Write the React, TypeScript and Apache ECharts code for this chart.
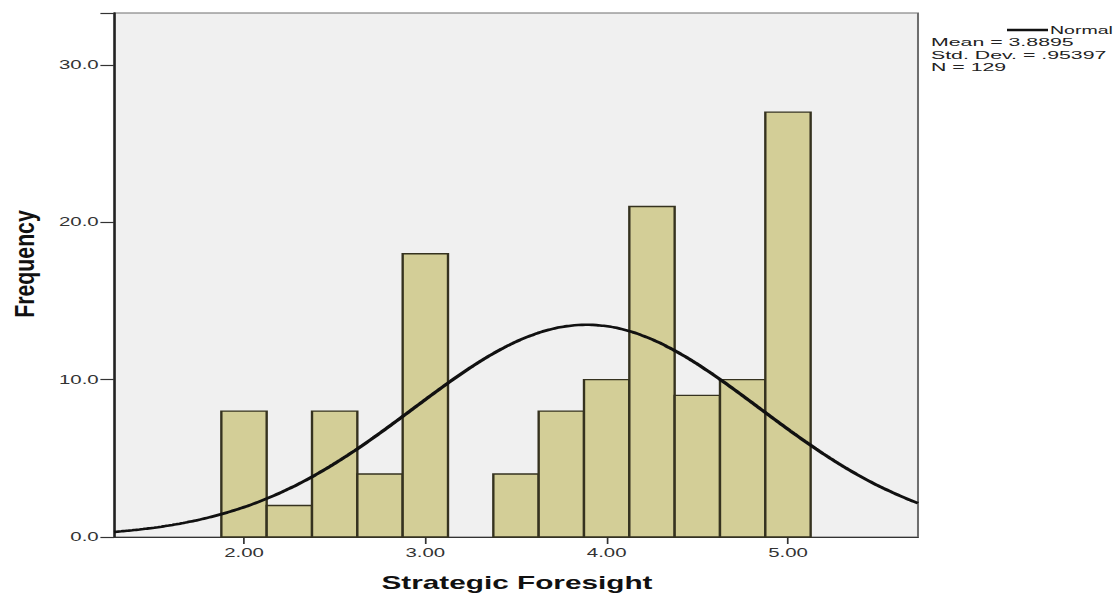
import React, { useEffect, useRef } from "react";
import * as echarts from "echarts";

// Histogram of Strategic Foresight scores with fitted normal curve
const BIN_EDGES = [1.875, 2.125, 2.375, 2.625, 2.875, 3.125, 3.375, 3.625, 3.875, 4.125, 4.375, 4.625, 4.875, 5.125];
const COUNTS = [8, 2, 8, 4, 18, 0, 4, 8, 10, 21, 9, 10, 27];
const X_TICKS = [2, 3, 4, 5];
const X_RANGE = [1.283, 5.717];
const Y_RANGE = [0, 33.3];

const MEAN = 3.8895;
const STD_DEV = 0.95397;
const N = 129;
const LEGEND_LINES = ["Mean = 3.8895", "Std. Dev. = .95397", "N = 129"];

// The chart is laid out narrow and widened horizontally as a whole.
const PAGE_W = 1120;
const PAGE_H = 595;
const STRETCH = 1.7;
const CHART_W = Math.round(PAGE_W / STRETCH);
const FONT = "'Liberation Sans', Arial, sans-serif";

function normalCurve(): number[][] {
  const binWidth = BIN_EDGES[1] - BIN_EDGES[0];
  const scale = (N * binWidth) / (STD_DEV * Math.sqrt(2 * Math.PI));
  const pts: number[][] = [];
  const steps = 220;
  for (let i = 0; i <= steps; i++) {
    const x = X_RANGE[0] + ((X_RANGE[1] - X_RANGE[0]) * i) / steps;
    const z = (x - MEAN) / STD_DEV;
    pts.push([x, scale * Math.exp(-0.5 * z * z)]);
  }
  return pts;
}

export default function App() {
  const ref = useRef<HTMLDivElement>(null);

  useEffect(() => {
    if (!ref.current) return;
    const chart = echarts.init(ref.current, null, { renderer: "svg" });
    const sx = (px: number) => px / (PAGE_W / CHART_W);

    const bars = COUNTS.map((c, i) => [BIN_EDGES[i], BIN_EDGES[i + 1], c]).filter((d) => d[2] > 0);

    chart.setOption({
      animation: false,
      backgroundColor: "#ffffff",
      grid: {
        left: sx(114),
        right: CHART_W - sx(918),
        top: 13,
        bottom: PAGE_H - 537,
        show: true,
        backgroundColor: "#f0f0f0",
        borderColor: "#6e6e6e",
        borderWidth: 1.2,
      },
      xAxis: {
        type: "value",
        min: X_RANGE[0],
        max: X_RANGE[1],
        splitLine: { show: false },
        axisLine: { show: true, lineStyle: { color: "#333", width: 1.2 } },
        axisTick: {
          show: true,
          length: 7,
          customValues: X_TICKS,
          lineStyle: { color: "#333", width: 1 },
        },
        axisLabel: {
          customValues: X_TICKS,
          formatter: (v: number) => v.toFixed(2),
          margin: 10,
          fontFamily: FONT,
          fontSize: 12,
          color: "#333",
        },
      },
      yAxis: {
        type: "value",
        min: Y_RANGE[0],
        max: Y_RANGE[1],
        interval: 10,
        splitLine: { show: false },
        axisLine: { show: true, lineStyle: { color: "#222", width: 1.3 } },
        axisTick: { show: true, length: 8, lineStyle: { color: "#333", width: 1.2 } },
        axisLabel: {
          formatter: (v: number) => (v % 10 === 0 ? v.toFixed(1) : ""),
          margin: 9,
          fontFamily: FONT,
          fontSize: 12,
          color: "#333",
        },
      },
      series: [
        {
          type: "custom",
          data: bars,
          encode: { x: [0, 1], y: 2 },
          z: 2,
          renderItem: (params: any, api: any) => {
            const top = api.coord([api.value(0), api.value(2)]);
            const base = api.coord([api.value(1), 0]);
            return {
              type: "rect",
              shape: { x: top[0], y: top[1], width: base[0] - top[0], height: base[1] - top[1] },
              style: { fill: "#d3ce97", stroke: "#35321f", lineWidth: 1.4 },
            };
          },
        },
        {
          type: "line",
          data: normalCurve(),
          showSymbol: false,
          smooth: true,
          z: 3,
          lineStyle: { color: "#111", width: 2.6 },
        },
      ],
      graphic: [
        {
          type: "text",
          x: sx(25),
          y: 264,
          rotation: Math.PI / 2,
          scaleX: 1.33,
          style: {
            text: "Frequency",
            fontFamily: FONT,
            fontWeight: "bold",
            fontSize: 16,
            fill: "#111",
            align: "center",
            verticalAlign: "middle",
          },
        },
        {
          type: "text",
          x: sx(517),
          y: 583,
          style: {
            text: "Strategic Foresight",
            fontFamily: FONT,
            fontWeight: "bold",
            fontSize: 17.5,
            fill: "#111",
            align: "center",
            verticalAlign: "middle",
          },
        },
        {
          type: "line",
          shape: { x1: sx(1007), y1: 30, x2: sx(1048), y2: 30 },
          style: { stroke: "#111", lineWidth: 2.6 },
        },
        {
          type: "text",
          x: sx(1050),
          y: 30,
          style: {
            text: "Normal",
            fontFamily: FONT,
            fontSize: 11.5,
            lineHeight: 11.5,
            fill: "#222",
            align: "left",
            verticalAlign: "middle",
          },
        },
        ...LEGEND_LINES.map((t, i) => ({
          type: "text",
          x: sx(931),
          y: 42.5 + i * 12.5,
          scaleX: 1.09,
          style: {
            text: t,
            fontFamily: FONT,
            fontSize: 11.5,
            lineHeight: 11.5,
            fill: "#222",
            align: "left",
            verticalAlign: "middle",
          },
        })),
      ],
    });

    return () => chart.dispose();
  }, []);

  return (
    <div
      ref={ref}
      style={{
        position: "fixed",
        left: 0,
        top: 0,
        width: CHART_W,
        height: PAGE_H,
        transform: `scaleX(${PAGE_W / CHART_W})`,
        transformOrigin: "0 0",
      }}
    />
  );
}
